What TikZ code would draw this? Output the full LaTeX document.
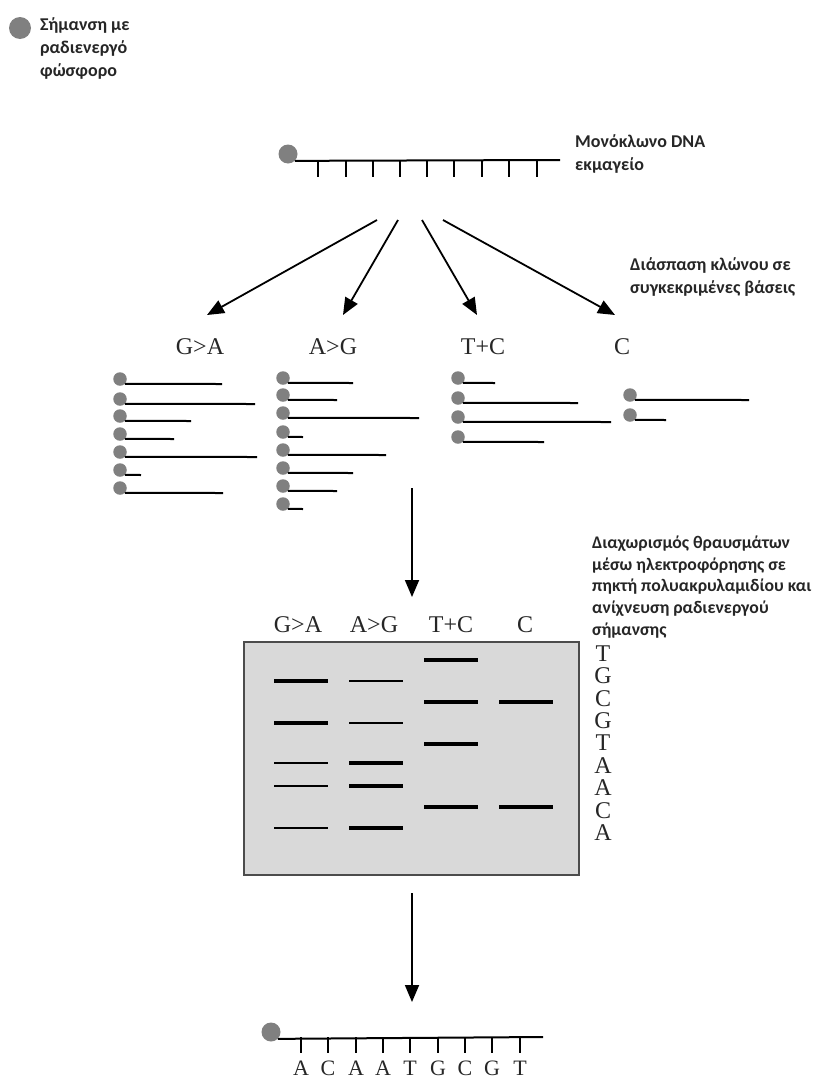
\documentclass[tikz,border=0pt]{standalone}
\usepackage{fontspec}
\setmainfont{Liberation Serif}
\newfontfamily\greekfont{Carlito}
\usepackage{tikz}
\usetikzlibrary{arrows.meta,positioning}
\definecolor{dotgray}{RGB}{128,128,128}
\definecolor{gelgray}{RGB}{217,217,217}
\definecolor{inkgray}{RGB}{38,38,38}
\tikzset{
  dot/.style={circle,fill=dotgray,inner sep=0pt,minimum size=13.5pt},
  bigdot/.style={circle,fill=dotgray,inner sep=0pt,minimum size=19pt},
  frag/.style={line width=2pt},
  tick/.style={line width=1.6pt},
  note/.style={font=\greekfont\bfseries\fontsize{18}{23}\selectfont,text=inkgray,align=left,anchor=west,inner sep=0pt},
  small note/.style={note,font=\greekfont\bfseries\fontsize{17.7}{21.8}\selectfont},
  base/.style={font=\fontsize{24}{24}\selectfont,text=inkgray,inner sep=0pt},
  flow/.style={line width=1.8pt,-{Triangle[length=17pt,width=14pt]}},
  band/.style={line width=4pt},
  faint/.style={line width=1.4pt}
}
\begin{document}
\begin{tikzpicture}[x=1pt,y=-1pt]
\useasboundingbox (0,0) rectangle (814,1079);

% legend
\node (mark) at (20,28) [circle,fill=dotgray,inner sep=0pt,minimum size=22pt] {};
\node (marktxt) at (40,48) [note] {Σήμανση με\\ραδιενεργό\\φώσφορο};

% template strand
\node (tpl) at (288,154) [bigdot] {};
\coordinate (tplend) at (560,160);
\draw[frag] (tpl.south east) -- (tplend);
\foreach \x in {318,346,373,400,427,454,482,509,537}
  \draw[tick] (\x,160) -- (\x,177);
\node (tpltxt) at (575,154) [note] {Μονόκλωνο DNA\\εκμαγείο};

% cleavage
\coordinate (c1s) at (377,220); \coordinate (c1e) at (207,315);
\coordinate (c2s) at (398,220); \coordinate (c2e) at (343,315);
\coordinate (c3s) at (422,220); \coordinate (c3e) at (477,315);
\coordinate (c4s) at (443,220); \coordinate (c4e) at (615,315);
\draw[flow] (c1s) -- (c1e);
\draw[flow] (c2s) -- (c2e);
\draw[flow] (c3s) -- (c3e);
\draw[flow] (c4s) -- (c4e);
\node (cuttxt) at (630,277) [note] {Διάσπαση κλώνου σε\\συγκεκριμένες βάσεις};

\node (ga) at (200,347) [base] {G>A};
\node (ag) at (333,347) [base] {A>G};
\node (tc) at (483,347) [base] {T+C};
\node (cc) at (622,347) [base] {C};

% fragments G>A
\node (ga1) at (120,379) [dot] {}; \draw[frag] (ga1.south east) -- (222,384);
\node (ga2) at (120,399) [dot] {}; \draw[frag] (ga2.south east) -- (255,404);
\node (ga3) at (120,416) [dot] {}; \draw[frag] (ga3.south east) -- (191,421);
\node (ga4) at (120,434) [dot] {}; \draw[frag] (ga4.south east) -- (174,439);
\node (ga5) at (120,452) [dot] {}; \draw[frag] (ga5.south east) -- (257,457);
\node (ga6) at (120,470) [dot] {}; \draw[frag] (ga6.south east) -- (141,475);
\node (ga7) at (120,488) [dot] {}; \draw[frag] (ga7.south east) -- (223,493);

% fragments A>G
\node (ag1) at (283,378) [dot] {}; \draw[frag] (ag1.south east) -- (353,383);
\node (ag2) at (283,395) [dot] {}; \draw[frag] (ag2.south east) -- (337,400);
\node (ag3) at (283,413) [dot] {}; \draw[frag] (ag3.south east) -- (419,418);
\node (ag4) at (283,432) [dot] {}; \draw[frag] (ag4.south east) -- (303,437);
\node (ag5) at (283,450) [dot] {}; \draw[frag] (ag5.south east) -- (386,455);
\node (ag6) at (283,468) [dot] {}; \draw[frag] (ag6.south east) -- (353,473);
\node (ag7) at (283,486) [dot] {}; \draw[frag] (ag7.south east) -- (337,491);
\node (ag8) at (283,504) [dot] {}; \draw[frag] (ag8.south east) -- (303,509);

% fragments T+C
\node (tc1) at (458,378) [dot] {}; \draw[frag] (tc1.south east) -- (495,383);
\node (tc2) at (458,398) [dot] {}; \draw[frag] (tc2.south east) -- (578,403);
\node (tc3) at (458,417) [dot] {}; \draw[frag] (tc3.south east) -- (611,422);
\node (tc4) at (458,437) [dot] {}; \draw[frag] (tc4.south east) -- (544,442);

% fragments C
\node (cc1) at (630,395) [dot] {}; \draw[frag] (cc1.south east) -- (749,400);
\node (cc2) at (630,415) [dot] {}; \draw[frag] (cc2.south east) -- (666,420);

% electrophoresis
\coordinate (r1s) at (412,488); \coordinate (r1e) at (412,597);
\draw[flow] (r1s) -- (r1e);
\node (geltxt) at (592,587) [small note] {Διαχωρισμός θραυσμάτων\\μέσω ηλεκτροφόρησης σε\\πηκτή πολυακρυλαμιδίου και\\ανίχνευση ραδιενεργού\\σήμανσης};

\node (gel) at (411.5,758.5) [draw=black!70,line width=1.5pt,fill=gelgray,minimum width=335pt,minimum height=233pt,inner sep=0pt] {};
\node (lga) at (298,625) [base] {G>A};
\node (lag) at (374,625) [base] {A>G};
\node (ltc) at (451,625) [base] {T+C};
\node (lcc) at (525,625) [base] {C};

\draw[band] (424,660) -- (478,660);
\draw[band] (274,681) -- (328,681);  \draw[faint] (349,681) -- (403,681);
\draw[band] (424,702) -- (478,702);  \draw[band] (499,702) -- (553,702);
\draw[band] (274,723) -- (328,723);  \draw[faint] (349,723) -- (403,723);
\draw[band] (424,744) -- (478,744);
\draw[faint] (274,763) -- (328,763); \draw[band] (349,763) -- (403,763);
\draw[faint] (274,786) -- (328,786); \draw[band] (349,786) -- (403,786);
\draw[band] (424,807) -- (478,807);  \draw[band] (499,807) -- (553,807);
\draw[faint] (274,828) -- (328,828); \draw[band] (349,828) -- (403,828);

\node (read) at (603,743) [base,font=\fontsize{24}{22.4}\selectfont,align=center] {T\\G\\C\\G\\T\\A\\A\\C\\A};

% sequence
\coordinate (r2s) at (412,893); \coordinate (r2e) at (412,1002);
\draw[flow] (r2s) -- (r2e);
\node (seq) at (271,1032) [bigdot] {};
\coordinate (seqend) at (543,1037);
\draw[frag] (seq.south east) -- (seqend);
\foreach \x/\b in {301/A,328/C,356/A,383/A,410/T,438/G,465/C,492/G,520/T}{
  \draw[tick] (\x,1037) -- (\x,1053);
  \node (b\x) at (\x,1068) [base,font=\fontsize{22}{22}\selectfont] {\b};
}
\end{tikzpicture}
\end{document}
